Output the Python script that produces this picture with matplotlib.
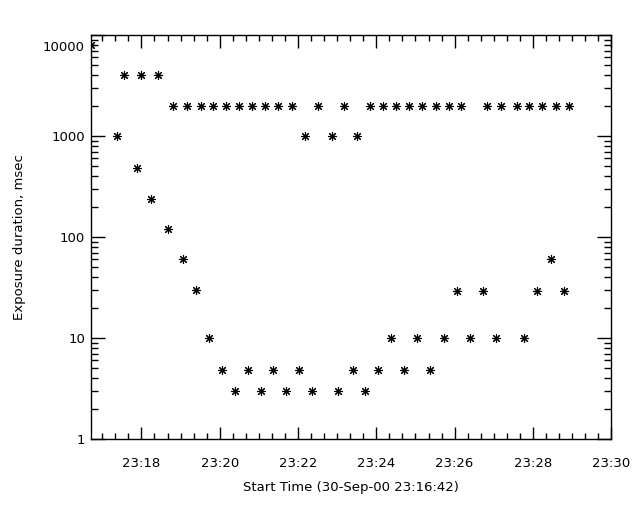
import numpy as np
import pandas as pd
import matplotlib
matplotlib.use('Agg')
import matplotlib.pyplot as plt
import matplotlib.dates as mdates
import matplotlib.transforms as mtransforms
from matplotlib.ticker import LogLocator, NullFormatter

plt.rcParams['font.family'] = ['DejaVu Sans']

# 曝光时间序列 (30-Sep-00)
times = ['23:16:42', '23:17:22', '23:17:33', '23:17:53', '23:18:00', '23:18:15',
         '23:18:25', '23:18:40', '23:18:48', '23:19:03', '23:19:10', '23:19:23',
         '23:19:31', '23:19:43', '23:19:50', '23:20:03', '23:20:10', '23:20:23',
         '23:20:30', '23:20:43', '23:20:50', '23:21:03', '23:21:10', '23:21:22',
         '23:21:30', '23:21:42', '23:21:50', '23:22:02', '23:22:10', '23:22:22',
         '23:22:31', '23:22:52', '23:23:02', '23:23:11', '23:23:24', '23:23:31',
         '23:23:43', '23:23:51', '23:24:03', '23:24:10', '23:24:23', '23:24:30',
         '23:24:43', '23:24:50', '23:25:03', '23:25:10', '23:25:23', '23:25:31',
         '23:25:43', '23:25:51', '23:26:03', '23:26:10', '23:26:23', '23:26:43',
         '23:26:50', '23:27:03', '23:27:11', '23:27:35', '23:27:47', '23:27:54',
         '23:28:07', '23:28:14', '23:28:27', '23:28:35', '23:28:47', '23:28:55']
exposure = [8000, 1000, 4000, 480, 4000, 240,
            4000, 120, 2000, 60, 2000, 30,
            2000, 10, 2000, 4.8, 2000, 3,
            2000, 4.8, 2000, 3, 2000, 4.8,
            2000, 3, 2000, 4.8, 1000, 3,
            2000, 1000, 3, 2000, 4.8, 1000,
            3, 2000, 4.8, 2000, 10, 2000,
            4.8, 2000, 10, 2000, 4.8, 2000,
            10, 2000, 29, 2000, 10, 29,
            2000, 10, 2000, 2000, 10, 2000,
            29, 2000, 60, 2000, 29, 2000]

y_ticks = [1, 10, 100, 1000, 10000]
y_labels = ['1', '10', '100', '1000', '10000']

t = pd.to_datetime(['2000-09-30 ' + s for s in times])
t0 = pd.Timestamp('2000-09-30 23:16:42')
t1 = pd.Timestamp('2000-09-30 23:30:00')

fig = plt.figure(figsize=(6.4, 5.12), dpi=100)
ax = fig.add_axes([0.1415, 0.1426, 0.8135, 0.789])

ax.plot(t, exposure, linestyle='none', marker=(8, 2, 0), markersize=6.5,
        markeredgewidth=0.8, color='black')

ax.set_yscale('log')
ax.set_ylim(1, 10000)
ax.set_xlim(t0, t1)

ax.set_yticks(y_ticks)
ax.set_yticklabels(y_labels)
ax.yaxis.set_minor_locator(LogLocator(base=10, subs=np.arange(2, 10), numticks=20))
ax.yaxis.set_minor_formatter(NullFormatter())

ax.xaxis.set_major_locator(mdates.MinuteLocator(byminute=range(0, 60, 2)))
ax.xaxis.set_minor_locator(mdates.SecondLocator(bysecond=[0, 20, 40]))
ax.xaxis.set_major_formatter(mdates.DateFormatter('%H:%M'))

ax.tick_params(which='both', direction='in', top=True, right=True,
               labelsize=9.5, width=1, pad=13)
ax.tick_params(axis='x', which='major', length=9)
ax.tick_params(axis='x', which='minor', length=4)
ax.tick_params(axis='y', which='major', length=10, pad=4)
ax.tick_params(axis='y', which='minor', length=5)
for s in ax.spines.values():
    s.set_linewidth(1)

# 顶部标签下移
top_lab = ax.get_yticklabels()[-1]
top_lab.set_transform(top_lab.get_transform() +
                      mtransforms.ScaledTranslation(0, -8 / 72, fig.dpi_scale_trans))

ax.set_xlabel('Start Time (30-Sep-00 23:16:42)', fontsize=9.5, labelpad=8)
ax.set_ylabel('Exposure duration, msec', fontsize=9.5, labelpad=12)

plt.savefig('out.png', dpi=100)
